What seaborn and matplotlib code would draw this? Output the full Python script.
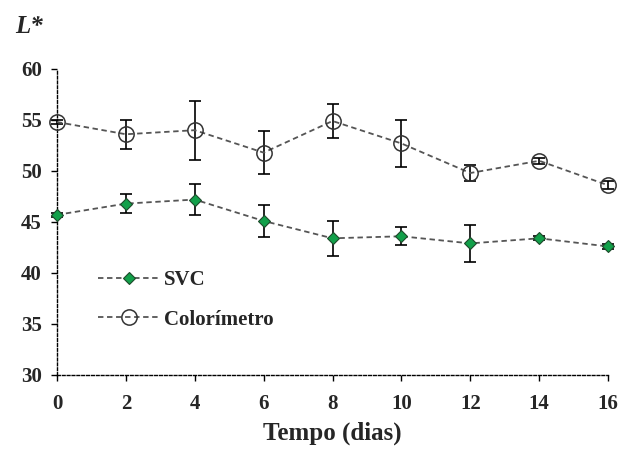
import matplotlib
matplotlib.use("Agg")
import matplotlib.pyplot as plt
import seaborn as sns
import pandas as pd
import numpy as np

dias = [0, 2, 4, 6, 8, 10, 12, 14, 16]
svc = [45.7, 46.8, 47.2, 45.1, 43.4, 43.6, 42.9, 43.4, 42.6]
svc_err = [0.2, 0.9, 1.5, 1.6, 1.7, 0.9, 1.85, 0.2, 0.2]
color = [54.8, 53.6, 54.0, 51.8, 54.9, 52.7, 49.8, 51.0, 48.6]
color_err = [0.2, 1.4, 2.9, 2.1, 1.7, 2.3, 0.8, 0.3, 0.4]
series_names = ["SVC", "Colorímetro"]
yticks = [30, 35, 40, 45, 50, 55, 60]
xticks = [0, 2, 4, 6, 8, 10, 12, 14, 16]

sns.set_style("ticks")
plt.rcParams["font.family"] = ["Liberation Serif", "DejaVu Serif"]
plt.rcParams["font.weight"] = "bold"

df = pd.DataFrame({
    "dias": dias * 2,
    "L": svc + color,
    "serie": [series_names[0]] * len(dias) + [series_names[1]] * len(dias),
})

fig = plt.figure(figsize=(6.22, 4.5), dpi=100)
ax = fig.add_axes([0.0916, 0.1667, 0.886, 0.68])

line_col = "#555555"
ax.errorbar(dias, svc, yerr=svc_err, fmt="none", ecolor="black", elinewidth=1.2,
            capsize=4, capthick=1.2, zorder=2, clip_on=False)
ax.errorbar(dias, color, yerr=color_err, fmt="none", ecolor="black", elinewidth=1.2,
            capsize=4, capthick=1.2, zorder=2, clip_on=False)

sns.lineplot(data=df[df.serie == series_names[0]], x="dias", y="L", ax=ax, color=line_col,
             linestyle=(0, (3, 2)), linewidth=1.3, marker="D", markersize=6.5,
             markerfacecolor="#12a04a", markeredgecolor="#1d4a2a", markeredgewidth=0.8,
             label=series_names[0], zorder=3, clip_on=False)
sns.lineplot(data=df[df.serie == series_names[1]], x="dias", y="L", ax=ax, color=line_col,
             linestyle=(0, (3, 2)), linewidth=1.3, marker="o", markersize=11,
             markerfacecolor="none", markeredgecolor="#333333", markeredgewidth=1.1,
             label=series_names[1], zorder=3, clip_on=False)

ax.set_xlim(0, 16)
ax.set_ylim(30, 60)
ax.set_xticks(xticks)
ax.set_yticks(yticks)
ax.tick_params(axis="both", direction="out", length=4, width=1, color="black",
               labelsize=15, pad=7)
ax.tick_params(axis="x", pad=10)
for lab in ax.get_xticklabels() + ax.get_yticklabels():
    lab.set_fontweight("bold")

for side in ["top", "right"]:
    ax.spines[side].set_visible(False)
for side in ["left", "bottom"]:
    ax.spines[side].set_linestyle((0, (2, 1.5)))
    ax.spines[side].set_color("black")
    ax.spines[side].set_linewidth(1.0)

ax.set_xlabel("Tempo (dias)", fontsize=18, fontweight="bold", labelpad=5)
ax.set_ylabel("")
fig.text(0.024, 0.927, "L*", fontsize=18, fontweight="bold", style="italic", va="baseline")

leg = ax.legend(loc="upper left", bbox_to_anchor=(0.04, 0.405), frameon=False,
                fontsize=15, handlelength=3.0, labelspacing=0.95, handletextpad=0.2)
for t in leg.get_texts():
    t.set_fontweight("bold")

fig.savefig("out.png", dpi=100)
